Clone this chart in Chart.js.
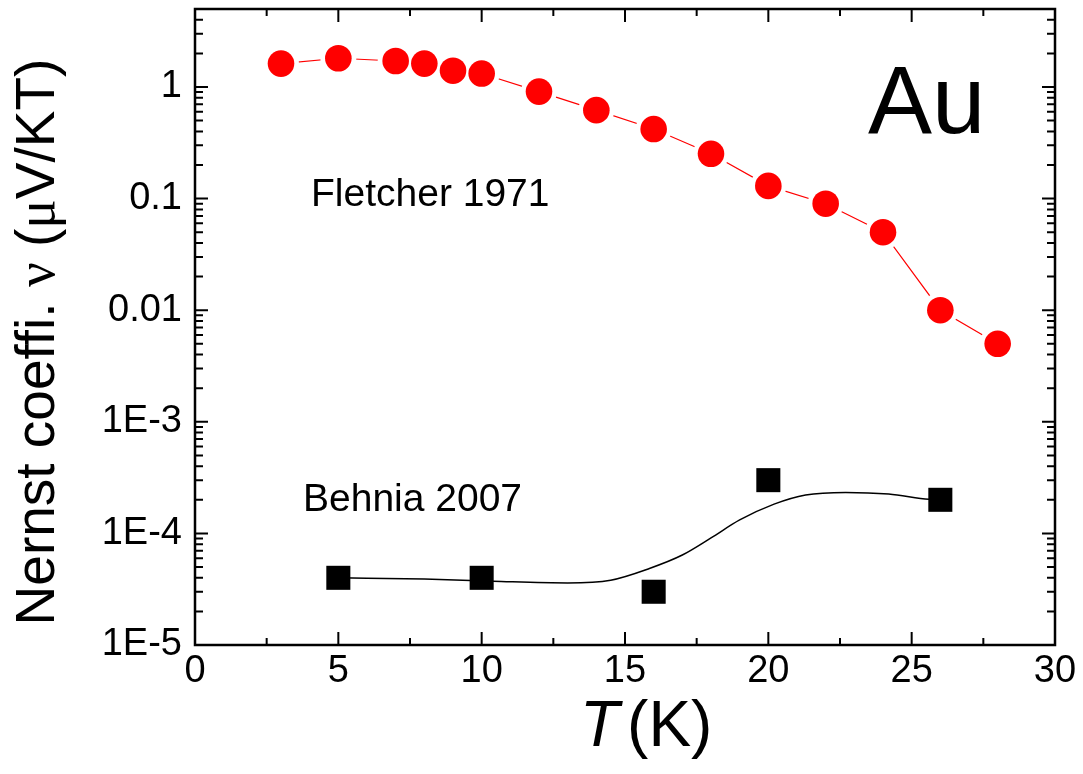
<!DOCTYPE html>
<html>
<head>
<meta charset="utf-8">
<script src="https://cdn.jsdelivr.net/npm/chart.js@4.4.1/dist/chart.umd.min.js"></script>
<style>
  html, body { margin: 0; padding: 0; background: #fff; }
</style>
</head>
<body>
<canvas id="nernstChart" width="1083" height="774"></canvas>
<script>
// Fletcher 1971 (red circles)
const fletcherT = [3, 5, 7, 8, 9, 10, 12, 14, 16, 18, 20, 22, 24, 26, 28];
const fletcherNu = [1.62, 1.81, 1.71, 1.62, 1.40, 1.32, 0.91, 0.62, 0.42, 0.252, 0.130, 0.090, 0.050, 0.0100, 0.0050];

// Behnia 2007 (black squares)
const behniaT = [5, 10, 16, 20, 26];
const behniaNu = [4.0e-5, 4.0e-5, 3.0e-5, 3.0e-4, 2.0e-4];

// smooth guide line through the Behnia data
const fitT = [5, 8, 10.4, 13, 14.5, 15.85, 17, 18, 19, 20.2, 21.3, 22.7, 24.2, 25.6, 26];
const fitNu = [4.0e-5, 3.9e-5, 3.73e-5, 3.6e-5, 3.81e-5, 4.85e-5, 6.4e-5, 9.1e-5, 1.32e-4, 1.83e-4, 2.21e-4, 2.33e-4, 2.25e-4, 2.02e-4, 2.0e-4];

// axes
const xTicks = [0, 5, 10, 15, 20, 25, 30];
const xMinorTicks = [2.5, 7.5, 12.5, 17.5, 22.5, 27.5];
const yTicks = [1e-5, 1e-4, 1e-3, 0.01, 0.1, 1];
const yTickLabels = ['1E-5', '1E-4', '1E-3', '0.01', '0.1', '1'];

const SANS = "'Liberation Sans', Arial, Helvetica, sans-serif";
const SERIF = "'Liberation Serif', 'DejaVu Serif', serif";

const toPoints = (xs, ys) => xs.map((x, i) => ({ x: x, y: ys[i] }));

const noScalePadding = scale => {
    scale.paddingTop = 0;
    scale.paddingBottom = 0;
    scale.paddingLeft = 0;
    scale.paddingRight = 0;
};

// frame plus inward ticks on all four sides
const frameTicks = {
    id: 'frameTicks',
    afterDatasetsDraw(chart) {
        const { ctx, chartArea: a, scales } = chart;
        const xs = scales.x, ys = scales.y;
        ctx.save();
        ctx.strokeStyle = '#000';
        ctx.lineWidth = 2;
        ctx.beginPath();
        const tickX = (v, len) => {
            const px = xs.getPixelForValue(v);
            ctx.moveTo(px, a.bottom); ctx.lineTo(px, a.bottom - len);
            ctx.moveTo(px, a.top); ctx.lineTo(px, a.top + len);
        };
        const tickY = (v, len) => {
            const py = ys.getPixelForValue(v);
            ctx.moveTo(a.left, py); ctx.lineTo(a.left + len, py);
            ctx.moveTo(a.right, py); ctx.lineTo(a.right - len, py);
        };
        xTicks.forEach(v => tickX(v, 13));
        xMinorTicks.forEach(v => tickX(v, 7));
        yTicks.forEach(v => tickY(v, 13));
        yTicks.forEach(d => {
            for (let m = 2; m <= 9; m++) {
                if (d * m <= ys.max) tickY(d * m, 8);
            }
        });
        ctx.stroke();
        ctx.lineWidth = 2.5;
        ctx.strokeRect(a.left, a.top, a.right - a.left, a.bottom - a.top);
        ctx.restore();
    }
};

// annotations and axis titles
const labels = {
    id: 'labels',
    afterDraw(chart) {
        const { ctx } = chart;
        ctx.save();
        ctx.fillStyle = '#000';
        ctx.textBaseline = 'alphabetic';
        ctx.textAlign = 'left';

        ctx.font = '96px ' + SANS;
        ctx.fillText('Au', 868, 133);
        ctx.font = '39px ' + SANS;
        ctx.fillText('Fletcher 1971', 311, 206);
        ctx.fillText('Behnia 2007', 303, 511);

        // x title: italic T then (K)
        ctx.font = 'italic 64px ' + SANS;
        ctx.fillText('T', 580, 746);
        const tw = ctx.measureText('T').width;
        ctx.font = '64px ' + SANS;
        ctx.fillText('(K)', 580 + tw + 8, 746);

        // y title, rotated
        const parts = [
            ['Nernst coeffi. ', SANS],
            ['\u03bd', SERIF],
            [' (', SANS],
            ['\u03bc', SERIF],
            ['V/KT)', SANS]
        ];
        const size = 55;
        let total = 0;
        parts.forEach(p => { ctx.font = size + 'px ' + p[1]; total += ctx.measureText(p[0]).width; });
        ctx.translate(54, 342);
        ctx.rotate(-Math.PI / 2);
        let x = -total / 2;
        parts.forEach(p => {
            ctx.font = size + 'px ' + p[1];
            ctx.fillText(p[0], x, 0);
            x += ctx.measureText(p[0]).width;
        });
        ctx.restore();
    }
};

const ctx = document.getElementById('nernstChart').getContext('2d');
const nernstChart = new Chart(ctx, {
    type: 'scatter',
    data: {
        datasets: [{
            label: 'Fletcher 1971',
            data: toPoints(fletcherT, fletcherNu),
            backgroundColor: '#ff0000',
            pointRadius: 13.3,
            borderWidth: 0,
            showLine: false,
            order: 0
        }, {
            label: 'Fletcher halo',
            data: toPoints(fletcherT, fletcherNu),
            backgroundColor: '#ffffff',
            pointRadius: 18,
            borderWidth: 0,
            showLine: false,
            order: 1
        }, {
            label: 'Fletcher line',
            data: toPoints(fletcherT, fletcherNu),
            borderColor: '#ff0000',
            borderWidth: 1.2,
            pointRadius: 0,
            showLine: true,
            order: 2
        }, {
            label: 'Behnia 2007',
            data: toPoints(behniaT, behniaNu),
            backgroundColor: '#000000',
            pointStyle: 'rect',
            pointRadius: 17,
            borderWidth: 0,
            showLine: false,
            order: 0
        }, {
            label: 'Behnia fit',
            data: toPoints(fitT, fitNu),
            borderColor: '#000000',
            borderWidth: 1.5,
            pointRadius: 0,
            showLine: true,
            cubicInterpolationMode: 'monotone',
            order: 2
        }]
    },
    options: {
        responsive: false,
        animation: false,
        devicePixelRatio: 1,
        layout: { autoPadding: false, padding: { left: 0, right: 28, top: 9, bottom: 0 } },
        plugins: {
            legend: { display: false },
            tooltip: { enabled: false }
        },
        scales: {
            x: {
                type: 'linear',
                min: 0,
                max: 30,
                afterBuildTicks: scale => { scale.ticks = xTicks.map(v => ({ value: v })); },
                afterFit: scale => { scale.height = 129; noScalePadding(scale); },
                grid: { display: false, drawTicks: false },
                border: { display: false },
                ticks: {
                    color: '#000',
                    font: { family: SANS, size: 38 },
                    padding: 4,
                    maxRotation: 0,
                    autoSkip: false
                }
            },
            y: {
                type: 'logarithmic',
                min: 1e-5,
                max: 5,
                afterBuildTicks: scale => { scale.ticks = yTicks.map(v => ({ value: v })); },
                afterFit: scale => { scale.width = 195; noScalePadding(scale); },
                grid: { display: false, drawTicks: false },
                border: { display: false },
                ticks: {
                    color: '#000',
                    font: { family: SANS, size: 38 },
                    padding: 13,
                    autoSkip: false,
                    callback: (value, index) => yTickLabels[index]
                }
            }
        }
    },
    plugins: [frameTicks, labels]
});
</script>
</body>
</html>
